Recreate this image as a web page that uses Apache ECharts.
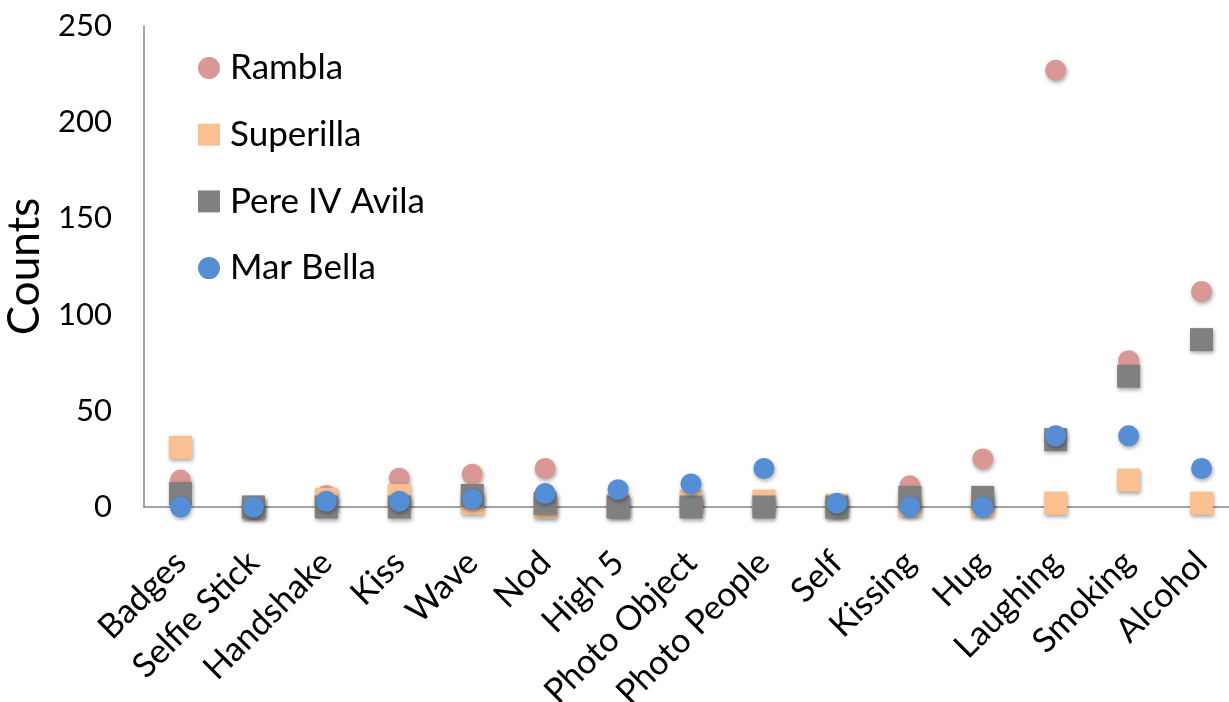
<!DOCTYPE html>
<html>
<head>
<meta charset="utf-8">
<script src="https://cdn.jsdelivr.net/npm/echarts@6/dist/echarts.min.js"></script>
<style>
html,body{margin:0;padding:0;background:#fff;}
#chart{width:1229px;height:702px;}
</style>
</head>
<body>
<div id="chart"></div>
<script>
var categories = ["Badges","Selfie Stick","Handshake","Kiss","Wave","Nod","High 5","Photo Object","Photo People","Self","Kissing","Hug","Laughing","Smoking","Alcohol"];
var rambla    = [14, 0, 6, 15, 17, 20, 1, 2, 2, 0, 11, 25, 227, 76, 112];
var superilla = [31, 0, 4, 6, 2, 0, 1, 3, 3, 1, 1, 1, 2, 14, 2];
var pere      = [7, 0, 0, 0, 6, 2, 0, 0, 0, 0, 5, 5, 35, 68, 87];
var marBella  = [0, 0, 3, 3, 4, 7, 9, 12, 20, 2, 0, 0, 37, 37, 20];
var yTicks = {min: 0, max: 250, interval: 50};

var FONT = 'Lato';
var shadow = {shadowColor: 'rgba(0,0,0,0.35)', shadowBlur: 4, shadowOffsetX: 1, shadowOffsetY: 2};
function mk(name, data, symbol, size, color) {
  return {
    name: name, type: 'scatter', data: data, symbol: symbol, symbolSize: size,
    itemStyle: Object.assign({color: color, opacity: 1}, shadow),
    emphasis: {disabled: true}
  };
}
var chart = echarts.init(document.getElementById('chart'), null, {renderer: 'canvas'});
chart.setOption({
  animation: false,
  backgroundColor: '#ffffff',
  textStyle: {fontFamily: FONT},
  grid: {left: 144, top: 26, width: 1094, height: 481, containLabel: false, outerBoundsMode: 'none'},
  legend: {
    orient: 'vertical', left: 198, top: 48, padding: 0,
    itemWidth: 22, itemHeight: 22, itemGap: 26.7,
    textStyle: {fontFamily: FONT, fontSize: 35, color: '#000', lineHeight: 40, padding: [0,0,0,5]},
    data: ['Rambla', 'Superilla', 'Pere IV Avila', 'Mar Bella']
  },
  xAxis: {
    type: 'category', data: categories,
    axisLine: {lineStyle: {color: '#868686', width: 1.5}},
    axisTick: {show: false},
    axisLabel: {interval: 0, rotate: 45, fontFamily: FONT, fontSize: 34, color: '#000', margin: 50},
    splitLine: {show: false}
  },
  yAxis: {
    type: 'value', min: yTicks.min, max: yTicks.max, interval: yTicks.interval,
    name: 'Counts', nameLocation: 'middle', nameGap: 89, nameRotate: 90,
    nameTextStyle: {fontFamily: FONT, fontSize: 44, color: '#000'},
    axisLine: {show: true, lineStyle: {color: '#868686', width: 1.5}},
    axisTick: {show: false},
    axisLabel: {fontFamily: FONT, fontSize: 31, color: '#000', margin: 32},
    splitLine: {show: false}
  },
  series: [
    mk('Rambla', rambla, 'circle', 21, '#D99795'),
    mk('Superilla', superilla, 'rect', 23, '#FAC090'),
    mk('Pere IV Avila', pere, 'rect', 23, '#808080'),
    mk('Mar Bella', marBella, 'circle', 21, '#558ED5')
  ]
});
</script>
</body>
</html>
